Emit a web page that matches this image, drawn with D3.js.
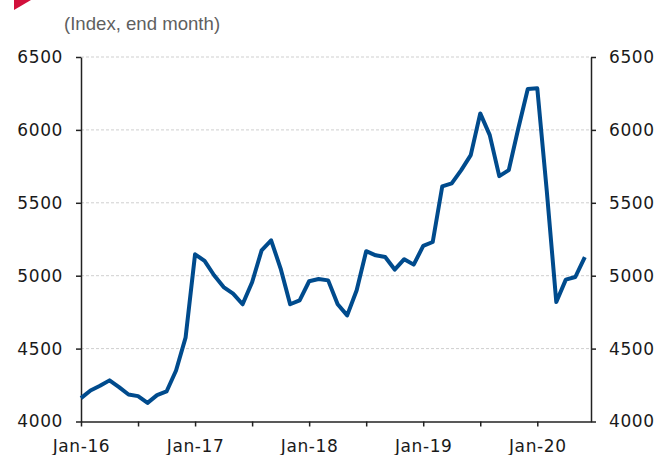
<!DOCTYPE html>
<html>
<head>
<meta charset="utf-8">
<script src="https://cdn.jsdelivr.net/npm/d3@7"></script>
<style>
  html, body { margin: 0; padding: 0; background: #fff; }
  .tick text { font-family: "DejaVu Sans", sans-serif; font-size: 17px; letter-spacing: 0.6px; fill: #1a1a1a; }
</style>
</head>
<body>
<div id="chart"></div>
<script>
// month labels (only Jan shown on the axis)
const months = [
  "Jan-16","Feb-16","Mar-16","Apr-16","May-16","Jun-16","Jul-16","Aug-16","Sep-16","Oct-16","Nov-16","Dec-16",
  "Jan-17","Feb-17","Mar-17","Apr-17","May-17","Jun-17","Jul-17","Aug-17","Sep-17","Oct-17","Nov-17","Dec-17",
  "Jan-18","Feb-18","Mar-18","Apr-18","May-18","Jun-18","Jul-18","Aug-18","Sep-18","Oct-18","Nov-18","Dec-18",
  "Jan-19","Feb-19","Mar-19","Apr-19","May-19","Jun-19","Jul-19","Aug-19","Sep-19","Oct-19","Nov-19","Dec-19",
  "Jan-20","Feb-20","Mar-20","Apr-20","May-20","Jun-20"
];

// index level, end of month
const indexValues = [
  4160, 4213, 4245, 4282, 4236, 4185, 4174, 4128, 4181, 4206, 4350, 4575,
  5147, 5101, 5003, 4922, 4877, 4804, 4955, 5174, 5243, 5049, 4804, 4831,
  4962, 4977, 4968, 4804, 4728, 4900, 5168, 5140, 5128, 5042, 5113, 5076,
  5204, 5231, 5612, 5633, 5724, 5827, 6113, 5964, 5683, 5724, 6010, 6280,
  6285, 5580, 4819, 4973, 4991, 5128
];

const yTicks = [4000, 4500, 5000, 5500, 6000, 6500];
const xTickLabels = ["Jan-16", "Jan-17", "Jan-18", "Jan-19", "Jan-20"];
const unitLabel = "(Index, end month)";

const W = 659, H = 455;
const plotLeft = 81, plotRight = 591, plotTop = 57, plotBottom = 421.5;

const svg = d3.select("#chart").append("svg")
  .attr("width", W)
  .attr("height", H);

// red corner marker
svg.append("path")
  .attr("d", "M14,0 L31,0 L14,10 Z")
  .attr("fill", "#d2103c");

svg.append("text")
  .attr("x", 64)
  .attr("y", 30)
  .style("font-family", "Liberation Sans, Arial, sans-serif")
  .style("font-size", "18.6px")
  .style("fill", "#5f5f5f")
  .text(unitLabel);

const x = d3.scaleLinear().domain([0, 53.65]).range([plotLeft, plotRight]);
const y = d3.scaleLinear().domain([4000, 6500]).range([plotBottom, plotTop]);

// gridlines
svg.append("g")
  .selectAll("line")
  .data(yTicks.filter(d => d > 4000))
  .enter().append("line")
  .attr("x1", plotLeft)
  .attr("x2", plotRight)
  .attr("y1", d => y(d))
  .attr("y2", d => y(d))
  .attr("stroke", "#cfcfcf")
  .attr("stroke-width", 1)
  .attr("stroke-dasharray", "3,2");

// x axis: ticks every 6 months, labels on January
const xTickVals = d3.range(0, 54, 6);
const xAxis = svg.append("g")
  .attr("transform", `translate(0,${plotBottom})`)
  .call(d3.axisBottom(x)
    .tickValues(xTickVals)
    .tickSize(5)
    .tickSizeOuter(0)
    .tickPadding(13)
    .tickFormat(d => d % 12 === 0 ? xTickLabels[d / 12] : ""));
xAxis.select(".domain").attr("stroke", "#222").attr("stroke-width", 1.5);
xAxis.selectAll(".tick line").attr("stroke", "#222").attr("stroke-width", 1.5);

const leftAxis = svg.append("g")
  .attr("transform", `translate(${plotLeft},0)`)
  .call(d3.axisLeft(y).tickValues(yTicks).tickSize(5).tickSizeOuter(0).tickPadding(13).tickFormat(d3.format("d")));
leftAxis.select(".domain").attr("stroke", "#222").attr("stroke-width", 1.5);
leftAxis.selectAll(".tick line").attr("stroke", "#222").attr("stroke-width", 1.5);

const rightAxis = svg.append("g")
  .attr("transform", `translate(${plotRight},0)`)
  .call(d3.axisRight(y).tickValues(yTicks).tickSize(5).tickSizeOuter(0).tickPadding(13).tickFormat(d3.format("d")));
rightAxis.select(".domain").attr("stroke", "#222").attr("stroke-width", 1.5);
rightAxis.selectAll(".tick line").attr("stroke", "#222").attr("stroke-width", 1.5);

// the series
const line = d3.line()
  .x((d, i) => x(i))
  .y(d => y(d));

svg.append("path")
  .datum(indexValues)
  .attr("fill", "none")
  .attr("stroke", "#004b8d")
  .attr("stroke-width", 4)
  .attr("stroke-linejoin", "round")
  .attr("d", line);
</script>
</body>
</html>
